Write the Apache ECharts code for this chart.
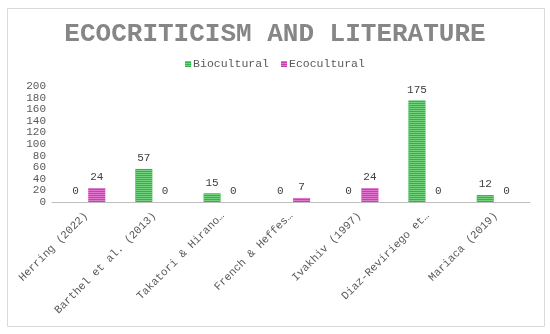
<!DOCTYPE html>
<html>
<head>
<meta charset="utf-8">
<script src="https://cdn.jsdelivr.net/npm/echarts@6/dist/echarts.min.js"></script>
<style>
html,body{margin:0;padding:0;background:#fff;}
#c{width:550px;height:334px;}
</style>
</head>
<body>
<div id="c"></div>
<script>
const titleText = "ECOCRITICISM AND LITERATURE";
const categories = ["Herring (2022)", "Barthel et al. (2013)", "Takatori & Hirano…", "French & Heffes…", "Ivakhiv (1997)", "Diaz-Reviriego et…", "Mariaca (2019)"];
const biocultural = [0, 57, 15, 0, 0, 175, 12];
const ecocultural = [24, 0, 0, 7, 24, 0, 0];
const yTicks = [0, 20, 40, 60, 80, 100, 120, 140, 160, 180, 200];

const font = "'Liberation Mono', 'Courier New', monospace";
const chart = echarts.init(document.getElementById('c'), null, {renderer: 'canvas'});

function stripe(color) {
  return {
    symbol: 'rect',
    color: color,
    dashArrayX: [[1, 0]],
    dashArrayY: [1, 1],
    symbolSize: 1,
    rotation: 0
  };
}

chart.setOption({
  animation: false,
  aria: {enabled: true, decal: {show: true}},
  graphic: [{
    type: 'rect',
    shape: {x: 7.5, y: 8.5, width: 537, height: 318},
    style: {fill: 'none', stroke: '#d9d9d9', lineWidth: 1},
    silent: true
  }],
  title: {
    text: titleText,
    left: 'center',
    top: 16,
    textStyle: {fontFamily: font, fontSize: 26, fontWeight: 'bold', color: '#868686'}
  },
  legend: {
    top: 53,
    left: 'center',
    itemWidth: 6,
    itemHeight: 6,
    itemGap: 12,
    icon: 'rect',
    textStyle: {fontFamily: font, fontSize: 11.5, color: '#595959', padding: [0, 0, 0, -3]},
    data: ['Biocultural', 'Ecocultural']
  },
  grid: {left: 52, right: 20, top: 86, bottom: 132, containLabel: false},
  xAxis: {
    type: 'category',
    data: categories,
    axisLine: {lineStyle: {color: '#bfbfbf', width: 1}},
    axisTick: {show: false},
    axisLabel: {rotate: 45, interval: 0, fontFamily: font, fontSize: 11, color: '#595959', margin: 12}
  },
  yAxis: {
    type: 'value',
    min: yTicks[0],
    max: yTicks[yTicks.length - 1],
    interval: 20,
    axisLine: {show: false},
    axisTick: {show: false},
    splitLine: {show: false},
    axisLabel: {fontFamily: font, fontSize: 11, color: '#595959', margin: 6}
  },
  series: [{
    name: 'Biocultural',
    type: 'bar',
    data: biocultural,
    barWidth: 17,
    barGap: '25%',
    itemStyle: {color: '#2fb34a', decal: stripe('rgba(160,230,160,0.6)')},
    label: {show: true, position: 'top', fontFamily: font, fontSize: 11, color: '#404040', distance: 5}
  }, {
    name: 'Ecocultural',
    type: 'bar',
    data: ecocultural,
    barWidth: 17,
    itemStyle: {color: '#c83fb0', decal: stripe('rgba(240,160,225,0.6)')},
    label: {show: true, position: 'top', fontFamily: font, fontSize: 11, color: '#404040', distance: 5}
  }]
});
</script>
</body>
</html>
